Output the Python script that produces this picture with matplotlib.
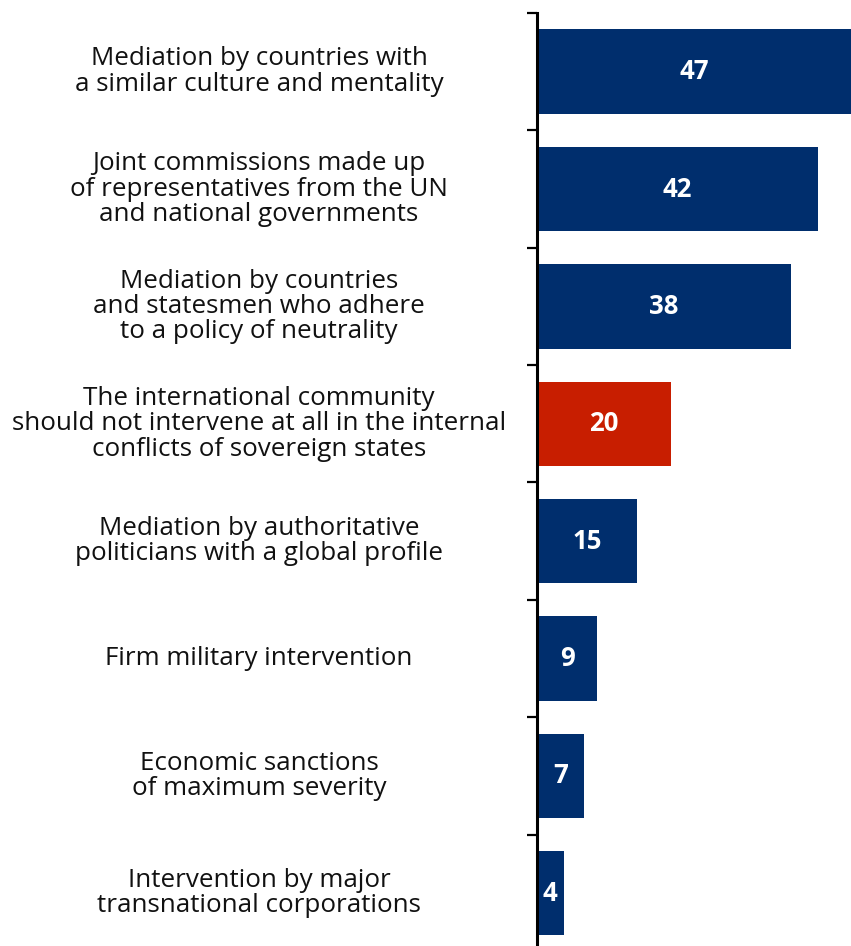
import matplotlib.pyplot as plt
import matplotlib.transforms as mtransforms

plt.rcParams['font.family'] = ['Open Sans', 'DejaVu Sans']

labels = [
    "Mediation by countries with\na similar culture and mentality",
    "Joint commissions made up\nof representatives from the UN\nand national governments",
    "Mediation by countries\nand statesmen who adhere\nto a policy of neutrality",
    "The international community\nshould not intervene at all in the internal\nconflicts of sovereign states",
    "Mediation by authoritative\npoliticians with a global profile",
    "Firm military intervention",
    "Economic sanctions\nof maximum severity",
    "Intervention by major\ntransnational corporations",
]
values = [47, 42, 38, 20, 15, 9, 7, 4]
highlight = 3  # the "do not intervene" answer

NAVY = '#002E6D'
RED = '#C81E00'


def main():
    fig = plt.figure(figsize=(8.51, 9.46), dpi=100)
    ax = fig.add_axes([537 / 851, 0, 1 - 537 / 851, 1 - 13 / 946])

    colors = [RED if i == highlight else NAVY for i in range(len(values))]
    ypos = list(range(len(values)))
    ax.barh(ypos, values, height=0.72, color=colors)

    ax.set_xlim(0, 47)
    ax.set_ylim(7.45, -0.5)

    for y, v in zip(ypos, values):
        ax.text(v / 2, y, str(v), ha='center', va='center', color='white',
                fontsize=18.5, fontweight='bold')

    # category labels centred in the left margin
    trans = mtransforms.blended_transform_factory(fig.transFigure, ax.transData)
    for y, lab in zip(ypos, labels):
        ax.text(259 / 851, y, lab, ha='center', va='center', fontsize=18.7,
                linespacing=1.02, transform=trans, color='#111111')

    for s in ['top', 'right', 'bottom']:
        ax.spines[s].set_visible(False)
    ax.spines['left'].set_linewidth(2.2)
    ax.set_xticks([])
    ax.set_yticks([i - 0.5 for i in range(len(values))])
    ax.set_yticklabels([])
    ax.tick_params(axis='y', length=7, width=1.6, direction='out')

    fig.savefig('out.png', dpi=100)


if __name__ == "__main__":
    main()
